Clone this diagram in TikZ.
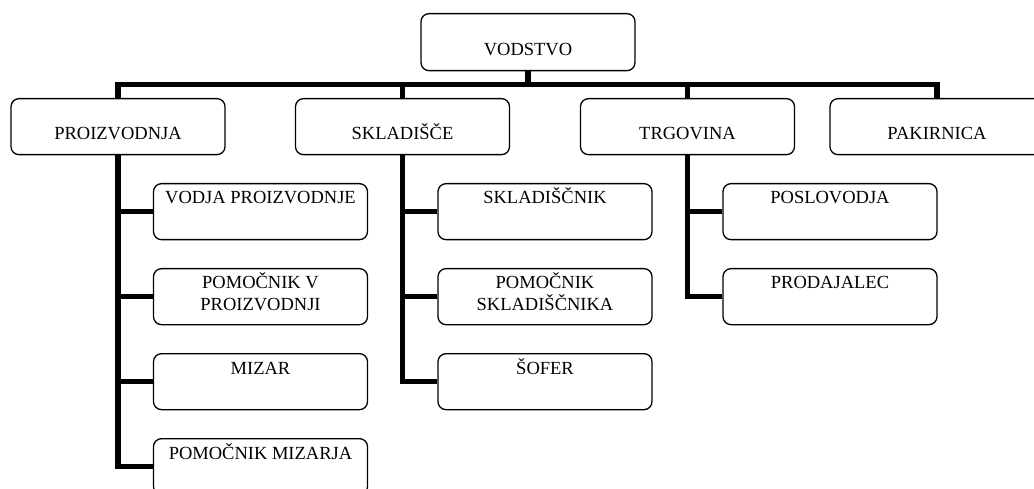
\documentclass[tikz,border=0pt]{standalone}
\usepackage{fontspec}
\setmainfont{Liberation Serif}
\begin{document}
\begin{tikzpicture}[x=1pt,y=-1pt,
  box/.style={draw, line width=1.3pt, rounded corners=8pt, minimum width=214pt,
    minimum height=56pt, inner sep=0pt, anchor=north},
  lbl/.style={font=\fontsize{18.5}{21}\selectfont, inner sep=0pt, anchor=base, align=center},
  link/.style={line width=5.5pt, line join=miter, line cap=butt}]
\useasboundingbox (0,0) rectangle (1034,489);
\clip (0,0) rectangle (1034,489);

% top level
\node[box, minimum height=57pt] (vod) at (528,13) {};
\node[lbl] (vod-t) at ([yshift=-43pt]vod.north) {VODSTVO};

% departments
\node[box] (pro) at (118,98) {};
\node[box] (skl) at (402.5,98) {};
\node[box] (trg) at (687.5,98) {};
\node[box] (pak) at (937,98) {};
\node[lbl] (pro-t) at ([yshift=-42pt]pro.north) {PROIZVODNJA};
\node[lbl] (skl-t) at ([yshift=-42pt]skl.north) {SKLADIŠČE};
\node[lbl] (trg-t) at ([yshift=-42pt]trg.north) {TRGOVINA};
\node[lbl] (pak-t) at ([yshift=-42pt]pak.north) {PAKIRNICA};

% staff of PROIZVODNJA (base of a two-line label is its last line)
\node[box] (vp) at (260.5,183) {};
\node[box] (pvp) at (260.5,268) {};
\node[box] (miz) at (260.5,353) {};
\node[box] (pmiz) at (260.5,438) {};
\node[lbl] (vp-t) at ([yshift=-21pt]vp.north) {VODJA PROIZVODNJE};
\node[lbl] (pvp-t) at ([yshift=-42pt]pvp.north) {POMOČNIK V\\PROIZVODNJI};
\node[lbl] (miz-t) at ([yshift=-21pt]miz.north) {MIZAR};
\node[lbl] (pmiz-t) at ([yshift=-21pt]pmiz.north) {POMOČNIK MIZARJA};

% staff of SKLADIŠČE
\node[box] (sk) at (545,183) {};
\node[box] (psk) at (545,268) {};
\node[box] (sof) at (545,353) {};
\node[lbl] (sk-t) at ([yshift=-21pt]sk.north) {SKLADIŠČNIK};
\node[lbl] (psk-t) at ([yshift=-42pt]psk.north) {POMOČNIK\\SKLADIŠČNIKA};
\node[lbl] (sof-t) at ([yshift=-21pt]sof.north) {ŠOFER};

% staff of TRGOVINA
\node[box] (pos) at (830,183) {};
\node[box] (prod) at (830,268) {};
\node[lbl] (pos-t) at ([yshift=-21pt]pos.north) {POSLOVODJA};
\node[lbl] (prod-t) at ([yshift=-21pt]prod.north) {PRODAJALEC};

% connectors
\coordinate (bar) at (0,84.5);
\draw[link] (vod.south) -- (vod.south |- bar);
\draw[link] (pro.north) -- (pro.north |- bar) -- (pak.north |- bar) -- (pak.north);
\draw[link] (skl.north) -- (skl.north |- bar);
\draw[link] (trg.north) -- (trg.north |- bar);

\draw[link] (pro.south) |- (pmiz.west);
\draw[link] (vp.west) -- (vp.west -| pro.south);
\draw[link] (pvp.west) -- (pvp.west -| pro.south);
\draw[link] (miz.west) -- (miz.west -| pro.south);

\draw[link] (skl.south) |- (sof.west);
\draw[link] (sk.west) -- (sk.west -| skl.south);
\draw[link] (psk.west) -- (psk.west -| skl.south);

\draw[link] (trg.south) |- (prod.west);
\draw[link] (pos.west) -- (pos.west -| trg.south);
\end{tikzpicture}
\end{document}
